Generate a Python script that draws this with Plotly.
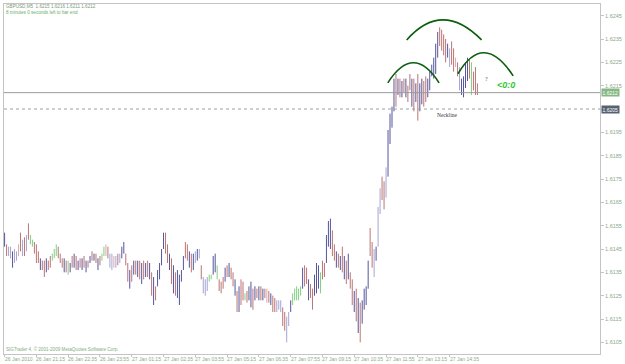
import plotly.graph_objects as go

# ---------------- data ----------------
bar_high = [
    1.6152, 1.6147, 1.6146, 1.6146, 1.6144, 1.6145, 1.6144, 1.6147, 1.6152, 1.6149,
    1.6150, 1.6151, 1.6156, 1.6151, 1.6149, 1.6148, 1.6147, 1.6144, 1.6141, 1.6140,
    1.6140, 1.6141, 1.6140, 1.6142, 1.6143, 1.6145, 1.6147, 1.6146, 1.6143, 1.6141,
    1.6141, 1.6140, 1.6140, 1.6139, 1.6142, 1.6143, 1.6142, 1.6140, 1.6141, 1.6141,
    1.6142, 1.6140, 1.6140, 1.6142, 1.6144, 1.6143, 1.6143, 1.6141, 1.6142, 1.6143,
    1.6146, 1.6147, 1.6146, 1.6143, 1.6143, 1.6142, 1.6142, 1.6143, 1.6143, 1.6146,
    1.6148, 1.6143, 1.6139, 1.6136, 1.6138, 1.6140, 1.6140, 1.6140, 1.6140, 1.6139,
    1.6140, 1.6139, 1.6140, 1.6139, 1.6135, 1.6133, 1.6129, 1.6136, 1.6139, 1.6145,
    1.6152, 1.6152, 1.6147, 1.6143, 1.6141, 1.6138, 1.6135, 1.6136, 1.6134, 1.6136,
    1.6142, 1.6148, 1.6147, 1.6144, 1.6143, 1.6143, 1.6144, 1.6145, 1.6145, 1.6138,
    1.6133, 1.6132, 1.6133, 1.6134, 1.6134, 1.6142, 1.6143, 1.6138, 1.6132, 1.6131,
    1.6133, 1.6137, 1.6138, 1.6139, 1.6137, 1.6135, 1.6132, 1.6127, 1.6129, 1.6132,
    1.6131, 1.6126, 1.6127, 1.6129, 1.6131, 1.6128, 1.6129, 1.6128, 1.6129, 1.6129,
    1.6128, 1.6128, 1.6128, 1.6127, 1.6126, 1.6125, 1.6124, 1.6123, 1.6123, 1.6123,
    1.6120, 1.6118, 1.6116, 1.6118, 1.6123, 1.6126, 1.6128, 1.6129, 1.6128, 1.6129,
    1.6137, 1.6138, 1.6137, 1.6132, 1.6130, 1.6128, 1.6134, 1.6139, 1.6138, 1.6135,
    1.6140, 1.6139, 1.6151, 1.6157, 1.6158, 1.6153, 1.6147, 1.6144, 1.6143, 1.6142,
    1.6146, 1.6142, 1.6140, 1.6143, 1.6135, 1.6132, 1.6127, 1.6128, 1.6124, 1.6122,
    1.6123, 1.6128, 1.6129, 1.6140, 1.6154, 1.6148, 1.6145, 1.6146, 1.6163, 1.6171,
    1.6176, 1.6174, 1.6180, 1.6196, 1.6203, 1.6206, 1.6218, 1.6220, 1.6218, 1.6218,
    1.6217, 1.6218, 1.6218, 1.6215, 1.6220, 1.6218, 1.6218, 1.6216, 1.6220, 1.6216,
    1.6218, 1.6217, 1.6219, 1.6218, 1.6221, 1.6224, 1.6227, 1.6233, 1.6238, 1.6240,
    1.6239, 1.6237, 1.6235, 1.6233, 1.6231, 1.6234, 1.6231, 1.6227, 1.6225, 1.6223,
    1.6218, 1.6219, 1.6225, 1.6227, 1.6226, 1.6225, 1.6221, 1.6223, 1.6216,
]
bar_low = [
    1.6146, 1.6142, 1.6142, 1.6141, 1.6137, 1.6139, 1.6140, 1.6142, 1.6144, 1.6142,
    1.6142, 1.6144, 1.6149, 1.6147, 1.6146, 1.6143, 1.6139, 1.6139, 1.6136, 1.6136,
    1.6133, 1.6135, 1.6136, 1.6137, 1.6140, 1.6141, 1.6142, 1.6141, 1.6139, 1.6137,
    1.6135, 1.6135, 1.6134, 1.6135, 1.6137, 1.6137, 1.6136, 1.6136, 1.6137, 1.6136,
    1.6137, 1.6135, 1.6137, 1.6139, 1.6140, 1.6140, 1.6139, 1.6136, 1.6138, 1.6140,
    1.6142, 1.6142, 1.6141, 1.6137, 1.6136, 1.6137, 1.6137, 1.6138, 1.6139, 1.6141,
    1.6143, 1.6138, 1.6131, 1.6128, 1.6131, 1.6134, 1.6134, 1.6133, 1.6132, 1.6130,
    1.6132, 1.6133, 1.6133, 1.6132, 1.6125, 1.6121, 1.6123, 1.6129, 1.6132, 1.6138,
    1.6145, 1.6143, 1.6139, 1.6136, 1.6130, 1.6126, 1.6125, 1.6124, 1.6121, 1.6131,
    1.6136, 1.6141, 1.6140, 1.6137, 1.6135, 1.6136, 1.6139, 1.6140, 1.6141, 1.6132,
    1.6126, 1.6125, 1.6127, 1.6131, 1.6132, 1.6134, 1.6135, 1.6132, 1.6127, 1.6126,
    1.6128, 1.6131, 1.6133, 1.6133, 1.6132, 1.6129, 1.6125, 1.6118, 1.6118, 1.6121,
    1.6123, 1.6123, 1.6122, 1.6123, 1.6120, 1.6119, 1.6123, 1.6124, 1.6123, 1.6123,
    1.6123, 1.6124, 1.6122, 1.6122, 1.6121, 1.6118, 1.6118, 1.6118, 1.6119, 1.6118,
    1.6112, 1.6110, 1.6105, 1.6112, 1.6118, 1.6121, 1.6123, 1.6123, 1.6123, 1.6125,
    1.6128, 1.6129, 1.6130, 1.6123, 1.6124, 1.6119, 1.6125, 1.6126, 1.6128, 1.6126,
    1.6132, 1.6133, 1.6139, 1.6146, 1.6145, 1.6142, 1.6140, 1.6137, 1.6137, 1.6136,
    1.6135, 1.6132, 1.6130, 1.6132, 1.6128, 1.6121, 1.6118, 1.6114, 1.6109, 1.6105,
    1.6113, 1.6119, 1.6121, 1.6128, 1.6142, 1.6137, 1.6133, 1.6140, 1.6146, 1.6160,
    1.6166, 1.6162, 1.6167, 1.6176, 1.6190, 1.6197, 1.6204, 1.6206, 1.6211, 1.6210,
    1.6210, 1.6212, 1.6210, 1.6208, 1.6213, 1.6206, 1.6204, 1.6208, 1.6200, 1.6204,
    1.6207, 1.6206, 1.6208, 1.6210, 1.6213, 1.6219, 1.6218, 1.6220, 1.6227, 1.6232,
    1.6230, 1.6228, 1.6225, 1.6227, 1.6223, 1.6224, 1.6221, 1.6223, 1.6219, 1.6213,
    1.6211, 1.6210, 1.6214, 1.6217, 1.6218, 1.6211, 1.6213, 1.6211, 1.6211,
]
# bar tone: b = up (navy), r = down (rose), l = lavender, p = pink, g = green
bar_tone = "".join([
    "brllbllprl", "rlrggrrrbr", "rbrrgggrrr", "brgbrbrbrb", "rbrbrbrbrg",
    "gprllplrlb", "brrbrbrbrb", "rbrbrbrbbb", "brrbrbrbbb", "brrbrblblr",
    "lllggbbgrr", "rbrbrrbrbr", "rgrbbrbrbr", "brprbrrlll", "rrllbggggg",
    "brrbrrbbbg", "rrbbbrrbrb", "rbrbrrbrbr", "bbbbrrlbll", "rrlbbbbrbr",
    "brbrrbrbrb", "brrbbbbbbr", "rrrblrrprl", "bbbbrgrrr",
])

time_labels = ["26 Jan 2010", "26 Jan 21:15", "26 Jan 22:35", "26 Jan 23:55",
               "27 Jan 01:15", "27 Jan 02:35", "27 Jan 03:55", "27 Jan 05:15",
               "27 Jan 06:35", "27 Jan 07:55", "27 Jan 09:15", "27 Jan 10:35",
               "27 Jan 11:55", "27 Jan 13:15", "27 Jan 14:35"]
time_label_bars = [0, 16, 32, 48, 64, 80, 96, 112, 128, 144, 160, 176, 192, 208, 224]

# 1.6205 is covered by the neckline price tag, so its plain label is blank
price_ticks = [1.6105, 1.6115, 1.6125, 1.6135, 1.6145, 1.6155, 1.6165, 1.6175,
               1.6185, 1.6195, 1.6205, 1.6215, 1.6225, 1.6235, 1.6245]
price_tick_text = ["1.6105", "1.6115", "1.6125", "1.6135", "1.6145", "1.6155", "1.6165",
                   "1.6175", "1.6185", "1.6195", "", "1.6215", "1.6225", "1.6235",
                   "1.6245"]

last_price = 1.6212
neckline_price = 1.6205
header_line1 = "GBPUSD,M5  1.6215 1.6216 1.6211 1.6212"
header_line2 = "8 minutes 0 seconds left to bar end"
footer_text = "SIGTrader 4, © 2001-2009 MetaQuotes Software Corp."

# arcs: (start bar, start price, peak bar, peak price, end bar, end price)
arc_left = (192.9, 1.62162, 205.8, 1.62248, 218.7, 1.62162)
arc_head = (202.4, 1.62346, 220.7, 1.62432, 240.1, 1.62346)
arc_right = (228.2, 1.62201, 241.6, 1.62291, 256.0, 1.62192)
question_pos = (242.8, 1.6218)
signal_pos = (252.5, 1.62154)
neck_label_pos = (222.7, 1.62024)

# ---------------- figure ----------------
tone_colors = {"b": "#55559c", "r": "#bd7373", "l": "#a4a4d6",
               "p": "#d9abab", "g": "#80cf80"}

fig = go.Figure()
for tone, col in tone_colors.items():
    xs, ys = [], []
    for i, (h, lo, t) in enumerate(zip(bar_high, bar_low, bar_tone)):
        if t == tone:
            xs += [i, i, None]
            ys += [lo, h, None]
    fig.add_trace(go.Scatter(x=xs, y=ys, mode="lines",
                             line=dict(color=col, width=1),
                             hoverinfo="skip", showlegend=False))

shapes = [
    dict(type="line", xref="paper", x0=0, x1=1, yref="y",
         y0=last_price, y1=last_price, line=dict(color="#9a9a9a", width=1)),
    dict(type="line", xref="paper", x0=0, x1=1, yref="y",
         y0=neckline_price, y1=neckline_price,
         line=dict(color="#a0a0a0", width=1, dash="dot")),
]
for a in (arc_left, arc_head, arc_right):
    x0, y0, xp, yp, x1, y1 = a
    cx = 2 * xp - (x0 + x1) / 2
    cy = 2 * yp - (y0 + y1) / 2
    shapes.append(dict(type="path", xref="x", yref="y",
                       path=f"M {x0},{y0} Q {cx},{cy} {x1},{y1}",
                       line=dict(color="#0b5e0b", width=1.6)))

axis_txt = "#8aa98a"
ann = []
for b, t in zip(time_label_bars, time_labels):
    ann.append(dict(x=b, y=0, xref="x", yref="paper", text=t, showarrow=False,
                    xanchor="left", yanchor="top", xshift=-2, yshift=0,
                    font=dict(size=5, color=axis_txt, family="Liberation Sans")))
ann += [
    dict(x=0, y=1, xref="paper", yref="paper", text=header_line1, showarrow=False,
         xanchor="left", yanchor="top", xshift=0, yshift=2,
         font=dict(size=4.6, color="#7d967d", family="Liberation Sans")),
    dict(x=0, y=1, xref="paper", yref="paper", text=header_line2, showarrow=False,
         xanchor="left", yanchor="top", xshift=0, yshift=-4,
         font=dict(size=4.6, color="#68b068", family="Liberation Sans")),
    dict(x=0, y=0, xref="paper", yref="paper", text=footer_text, showarrow=False,
         xanchor="left", yanchor="bottom", xshift=0, yshift=0,
         font=dict(size=4.6, color="#7fae7f", family="Liberation Sans")),
    dict(x=1, y=last_price, xref="paper", yref="y", text=f"{last_price:.4f}",
         showarrow=False, xanchor="left", yanchor="middle", xshift=1,
         bgcolor="#86b886", borderpad=0.5,
         font=dict(size=5, color="white", family="Liberation Sans")),
    dict(x=1, y=neckline_price, xref="paper", yref="y", text=f"{neckline_price:.4f}",
         showarrow=False, xanchor="left", yanchor="middle", xshift=1,
         bgcolor="#566172", borderpad=0.5,
         font=dict(size=5, color="white", family="Liberation Sans")),
    dict(x=question_pos[0], y=question_pos[1], xref="x", yref="y", text="?",
         showarrow=False, font=dict(size=6, color="#555555", family="Liberation Serif")),
    dict(x=signal_pos[0], y=signal_pos[1], xref="x", yref="y", text="<i><b>&lt;0:0</b></i>",
         showarrow=False, font=dict(size=9, color="#33c633", family="Liberation Sans")),
    dict(x=neck_label_pos[0], y=neck_label_pos[1], xref="x", yref="y", text="Neckline",
         showarrow=False, font=dict(size=5.5, color="#333333", family="Liberation Serif")),
]

fig.update_layout(
    width=625, height=364, margin=dict(l=3, r=18, t=3, b=10),
    paper_bgcolor="white", plot_bgcolor="white", showlegend=False,
    shapes=shapes, annotations=ann,
    xaxis=dict(range=[-0.3, 299.7], showgrid=False, zeroline=False,
               showline=True, mirror=True, linecolor="#c4c4c4", linewidth=1,
               tickvals=time_label_bars, ticks="outside", ticklen=2,
               tickcolor="#c4c4c4", showticklabels=False, fixedrange=True),
    yaxis=dict(range=[1.6100, 1.6250], side="right", showgrid=False, zeroline=False,
               showline=True, mirror=True, linecolor="#c4c4c4", linewidth=1,
               tickvals=price_ticks, ticktext=price_tick_text, ticks="outside",
               ticklen=3, tickcolor="#c4c4c4",
               tickfont=dict(size=5.5, color=axis_txt, family="Liberation Sans"),
               fixedrange=True),
)

fig.write_html("out.html")
